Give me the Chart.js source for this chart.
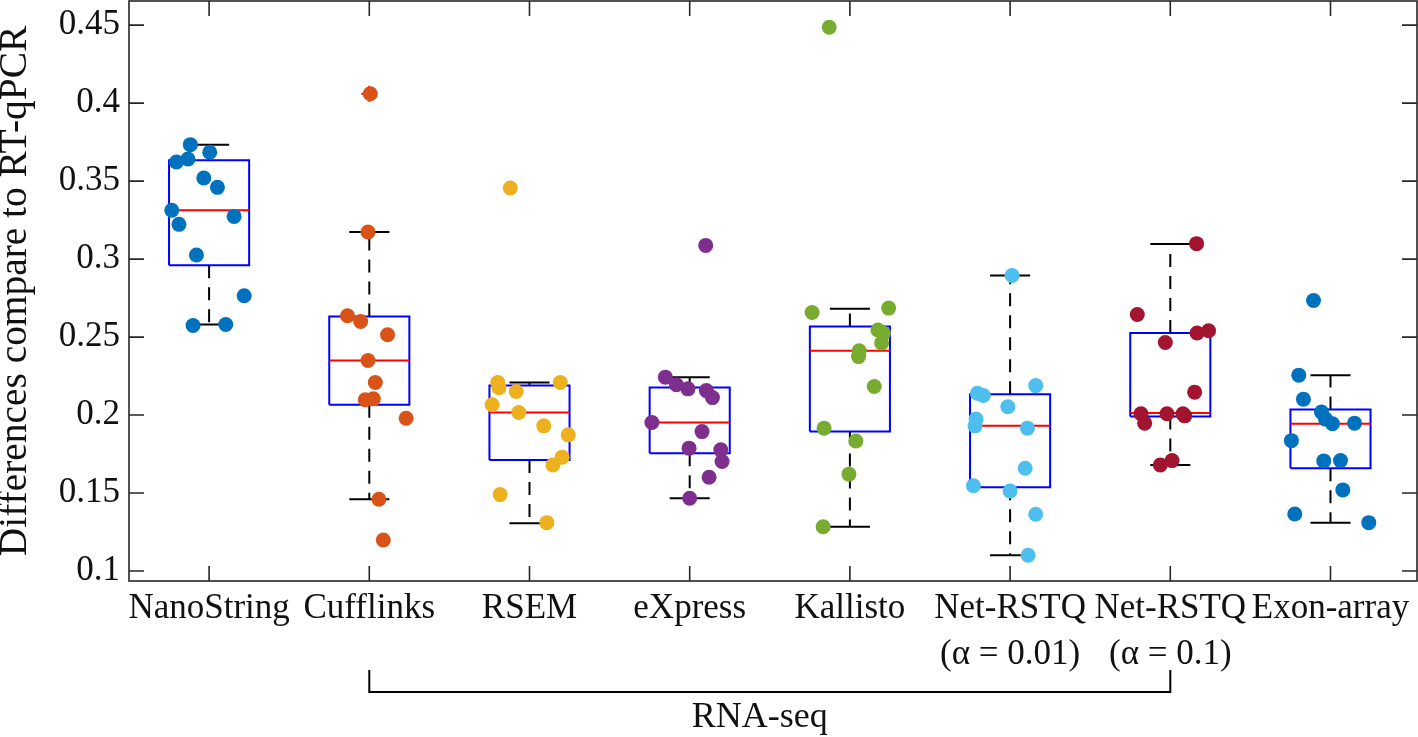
<!DOCTYPE html>
<html lang="en">
<head>
<meta charset="UTF-8">
<title>Differences compare to RT-qPCR</title>
<script src="https://cdn.jsdelivr.net/npm/chart.js"></script>
<style>
    html, body { margin: 0; padding: 0; background: #fff; }
    .chart-container { width: 1418px; height: 737px; }
</style>
</head>
<body>
<div class="chart-container">
    <canvas id="boxChart"></canvas>
</div>
<script>
    // categories on the x axis
    const categoryLabels = ['NanoString', 'Cufflinks', 'RSEM', 'eXpress', 'Kallisto',
        ['Net-RSTQ', '(α = 0.01)'], ['Net-RSTQ', '(α = 0.1)'], 'Exon-array'];
    const pointColors = ['#0072BD', '#D95319', '#EDB120', '#7E2F8E', '#77AC30', '#4DBEEE', '#A2142F', '#0072BD'];

    // y tick labels
    const yTickValues = [0.1, 0.15, 0.2, 0.25, 0.3, 0.35, 0.4, 0.45];
    const yTickLabels = ['0.1', '0.15', '0.2', '0.25', '0.3', '0.35', '0.4', '0.45'];

    // individual values (and horizontal jitter)
    const nanoStringVals = [0.3734, 0.3623, 0.3642, 0.3685, 0.352, 0.346, 0.3313, 0.3223, 0.3274, 0.3026, 0.2765, 0.2574, 0.2581];
    const nanoStringJitter = [-0.117, -0.204, -0.132, 0.004, -0.033, 0.052, -0.233, -0.188, 0.156, -0.079, 0.219, -0.10, 0.104];
    const cufflinksVals = [0.406, 0.3174, 0.2637, 0.26, 0.2515, 0.235, 0.2209, 0.2098, 0.2104, 0.198, 0.146, 0.1199];
    const cufflinksJitter = [0.006, -0.008, -0.136, -0.054, 0.114, -0.008, 0.0375, -0.025, 0.025, 0.23, 0.06, 0.0875];
    const rsemVals = [0.3456, 0.2209, 0.2175, 0.2209, 0.2151, 0.2066, 0.2016, 0.1931, 0.1873, 0.173, 0.168, 0.149, 0.131];
    const rsemJitter = [-0.12, -0.198, -0.19, 0.192, -0.083, -0.233, -0.067, 0.089, 0.242, 0.204, 0.146, -0.183, 0.108];
    const expressVals = [0.3088, 0.2243, 0.2194, 0.2168, 0.2157, 0.2112, 0.1952, 0.1894, 0.1788, 0.1777, 0.1702, 0.1601, 0.1467];
    const expressJitter = [0.1, -0.152, -0.083, -0.011, 0.104, 0.142, -0.236, 0.077, -0.004, 0.194, 0.202, 0.121, 0];
    const kallistoVals = [0.4487, 0.2658, 0.2686, 0.2545, 0.2525, 0.2462, 0.2412, 0.2375, 0.2183, 0.1916, 0.1834, 0.1621, 0.1284];
    const kallistoJitter = [-0.129, -0.236, 0.242, 0.175, 0.21, 0.198, 0.058, 0.054, 0.152, -0.161, 0.0375, -0.006, -0.167];
    const netRstq001Vals = [0.2895, 0.2189, 0.214, 0.2125, 0.2053, 0.1974, 0.1931, 0.1916, 0.1659, 0.1547, 0.1513, 0.1364, 0.1101];
    const netRstq001Jitter = [0.0125, 0.16, -0.204, -0.167, -0.014, -0.2125, -0.219, 0.108, 0.094, -0.229, 0, 0.16, 0.1125];
    const netRstq01Vals = [0.3099, 0.2645, 0.2526, 0.2541, 0.2465, 0.2147, 0.2008, 0.2008, 0.2008, 0.1995, 0.1948, 0.168, 0.1708];
    const netRstq01Jitter = [0.164, -0.206, 0.167, 0.239, -0.031, 0.152, -0.183, -0.021, 0.079, 0.09, -0.16, -0.0625, 0.011];
    const exonArrayVals = [0.2735, 0.2256, 0.2102, 0.2019, 0.1974, 0.1944, 0.1948, 0.1836, 0.1706, 0.1708, 0.152, 0.1366, 0.131];
    const exonArrayJitter = [-0.106, -0.198, -0.169, -0.056, -0.031, 0.0125, 0.15, -0.244, -0.042, 0.0625, 0.077, -0.223, 0.239];

    // box plot summary
    const boxQ3 = [0.3634, 0.2632, 0.2189, 0.2177, 0.2568, 0.2134, 0.2526, 0.2035];
    const boxMedian = [0.3313, 0.235, 0.2016, 0.1952, 0.2412, 0.1931, 0.2014, 0.1945];
    const boxQ1 = [0.296, 0.2066, 0.1712, 0.1755, 0.1894, 0.1537, 0.199, 0.1659];
    const whiskerHigh = [0.3734, 0.3174, 0.2209, 0.2243, 0.2682, 0.2895, 0.3097, 0.2256];
    const whiskerLow = [0.258, 0.146, 0.1306, 0.1467, 0.1284, 0.1101, 0.168, 0.131];
    const outlierX = [2];
    const outlierY = [0.406];

    // bracket under the RNA-seq methods
    const rnaSeqFrom = 2;
    const rnaSeqTo = 7;
    const rnaSeqLabel = 'RNA-seq';

    const groupVals = [nanoStringVals, cufflinksVals, rsemVals, expressVals, kallistoVals, netRstq001Vals, netRstq01Vals, exonArrayVals];
    const groupJitter = [nanoStringJitter, cufflinksJitter, rsemJitter, expressJitter, kallistoJitter, netRstq001Jitter, netRstq01Jitter, exonArrayJitter];

    const serif = '"Liberation Serif", "Times New Roman", serif';
    const boxHalf = 0.25, capHalf = 0.125;

    // line data built from the summary arrays, null breaks the line
    const boxLines = [], medianLines = [], whiskerLines = [], capLines = [];
    boxQ1.forEach((q1, i) => {
        const c = i + 1, l = c - boxHalf, r = c + boxHalf;
        boxLines.push({x: l, y: q1}, {x: r, y: q1}, {x: r, y: boxQ3[i]}, {x: l, y: boxQ3[i]}, {x: l, y: q1}, {x: l, y: null});
        medianLines.push({x: l, y: boxMedian[i]}, {x: r, y: boxMedian[i]}, {x: r, y: null});
        whiskerLines.push({x: c, y: boxQ3[i]}, {x: c, y: whiskerHigh[i]}, {x: c, y: null},
                          {x: c, y: q1}, {x: c, y: whiskerLow[i]}, {x: c, y: null});
        capLines.push({x: c - capHalf, y: whiskerHigh[i]}, {x: c + capHalf, y: whiskerHigh[i]}, {x: c, y: null},
                      {x: c - capHalf, y: whiskerLow[i]}, {x: c + capHalf, y: whiskerLow[i]}, {x: c, y: null});
    });

    const lineSet = (data, color, order, dash) => ({
        data: data, showLine: true, borderColor: color, borderWidth: 2, borderDash: dash || [],
        pointRadius: 0, fill: false, spanGaps: false, borderJoinStyle: 'miter', order: order
    });

    const pointSets = groupVals.map((vals, g) => ({
        data: vals.map((v, i) => ({x: g + 1 + groupJitter[g][i], y: v})),
        backgroundColor: pointColors[g],
        borderWidth: 0,
        pointRadius: 7.5,
        order: 0
    }));

    const datasets = [
        ...pointSets,
        {data: outlierX.map((x, i) => ({x: x, y: outlierY[i]})), pointStyle: 'cross', pointRadius: 8,
         borderColor: '#FF0000', borderWidth: 2, order: 1},
        lineSet(medianLines, '#FF0000', 2),
        lineSet(boxLines, '#0000FF', 3),
        lineSet(capLines, '#000000', 4),
        lineSet(whiskerLines, '#000000', 5, [13, 9])
    ];

    // axes frame with inward ticks, and the RNA-seq bracket
    const framePlugin = {
        id: 'frame',
        afterDraw(chart) {
            const {ctx, chartArea: a, scales: {x, y}} = chart;
            const tick = 15;
            ctx.save();
            ctx.strokeStyle = '#262626';
            ctx.lineWidth = 1.6;
            ctx.strokeRect(a.left, a.top, a.right - a.left, a.bottom - a.top);
            ctx.beginPath();
            y.ticks.forEach(t => {
                const py = y.getPixelForValue(t.value);
                ctx.moveTo(a.left, py); ctx.lineTo(a.left + tick, py);
                ctx.moveTo(a.right, py); ctx.lineTo(a.right - tick, py);
            });
            x.ticks.forEach(t => {
                const px = x.getPixelForValue(t.value);
                ctx.moveTo(px, a.bottom); ctx.lineTo(px, a.bottom - tick);
                ctx.moveTo(px, a.top); ctx.lineTo(px, a.top + tick);
            });
            ctx.stroke();

            const xa = x.getPixelForValue(rnaSeqFrom), xb = x.getPixelForValue(rnaSeqTo);
            ctx.strokeStyle = '#000';
            ctx.lineWidth = 2;
            ctx.beginPath();
            ctx.moveTo(xa, 670); ctx.lineTo(xa, 692); ctx.lineTo(xb, 692); ctx.lineTo(xb, 670);
            ctx.stroke();
            ctx.fillStyle = '#111';
            ctx.font = '36px ' + serif;
            ctx.textAlign = 'center';
            ctx.textBaseline = 'alphabetic';
            ctx.fillText(rnaSeqLabel, (xa + xb) / 2 - 10, 727);
            ctx.restore();
        }
    };

    new Chart(document.getElementById('boxChart'), {
        type: 'scatter',
        data: { datasets: datasets },
        options: {
            responsive: true,
            maintainAspectRatio: false,
            animation: false,
            layout: { autoPadding: false, padding: { top: 1, right: 1, left: 0, bottom: 0 } },
            plugins: { legend: { display: false }, tooltip: { enabled: false } },
            scales: {
                x: {
                    type: 'linear',
                    min: 0.5,
                    max: 8.54,
                    grid: { display: false, drawTicks: false },
                    border: { display: false },
                    afterBuildTicks: s => { s.ticks = categoryLabels.map((_, i) => ({value: i + 1})); },
                    afterFit: s => { s.height = 156; s.paddingLeft = 0; s.paddingRight = 0; },
                    ticks: {
                        autoSkip: false,
                        maxRotation: 0,
                        padding: 5,
                        color: '#111',
                        font: { family: serif, size: 35, lineHeight: 1.32 },
                        callback: v => categoryLabels[Math.round(v) - 1]
                    }
                },
                y: {
                    type: 'linear',
                    min: 0.0936,
                    max: 0.4655,
                    grid: { display: false, drawTicks: false },
                    border: { display: false },
                    afterBuildTicks: s => { s.ticks = yTickValues.map(v => ({value: v})); },
                    afterFit: s => { s.width = 129; s.paddingTop = 0; s.paddingBottom = 0; },
                    ticks: {
                        padding: 9,
                        color: '#111',
                        font: { family: serif, size: 35 },
                        callback: (v, i) => yTickLabels[i]
                    },
                    title: {
                        display: true,
                        text: 'Differences compare to RT-qPCR',
                        color: '#111',
                        font: { family: serif, size: 39.4, lineHeight: 0.78 },
                        padding: { top: 0, bottom: 0 }
                    }
                }
            }
        },
        plugins: [framePlugin]
    });
</script>
</body>
</html>
